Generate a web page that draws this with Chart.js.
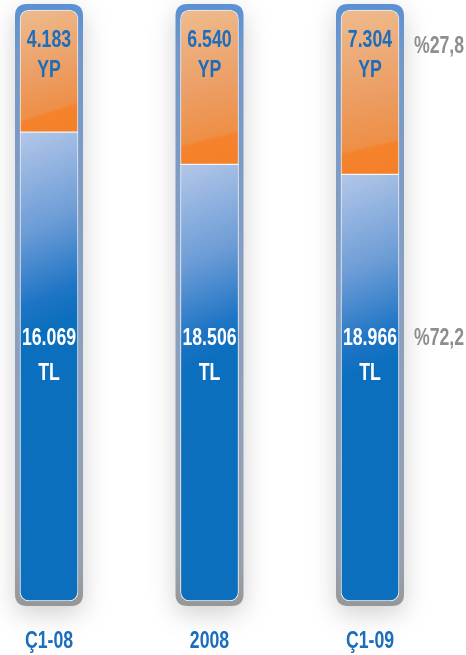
<!DOCTYPE html>
<html>
<head>
<meta charset="utf-8">
<script src="https://cdn.jsdelivr.net/npm/chart.js@4.4.1/dist/chart.umd.min.js"></script>
<style>
  html, body { margin: 0; padding: 0; background: #fff; }
  #wrap { width: 466px; height: 655px; }
</style>
</head>
<body>
<div id="wrap"><canvas id="shareChart"></canvas></div>
<script>
/* -------------------------------------------------------
   TL / YP SHARE BARS (stacked to 100%)
------------------------------------------------------- */

const categories = ["Ç1-08", "2008", "Ç1-09"];
const tlValues = [16069, 18506, 18966];
const ypValues = [4183, 6540, 7304];

const FONT = "bold 23px 'Liberation Sans', Arial, sans-serif";
const SQUEEZE = 0.77;   // no condensed face installed, so narrow it by hand
const BLUE_TXT = "#1b6dbd";

// share of each part in its bar, in percent
const totals = tlValues.map((v, i) => v + ypValues[i]);
const tlShare = tlValues.map((v, i) => v / totals[i] * 100);
const ypShare = ypValues.map((v, i) => v / totals[i] * 100);

function fmtThousands(n) {
  return String(n).replace(/\B(?=(\d{3})+(?!\d))/g, ".");
}
function fmtPct(p) {
  return "%" + p.toFixed(1).replace(".", ",");
}

function roundRect(c, x, y, w, h, r) {
  c.beginPath();
  c.moveTo(x + r, y);
  c.lineTo(x + w - r, y);
  c.quadraticCurveTo(x + w, y, x + w, y + r);
  c.lineTo(x + w, y + h - r);
  c.quadraticCurveTo(x + w, y + h, x + w - r, y + h);
  c.lineTo(x + r, y + h);
  c.quadraticCurveTo(x, y + h, x, y + h - r);
  c.lineTo(x, y + r);
  c.quadraticCurveTo(x, y, x + r, y);
  c.closePath();
}

function narrowText(c, str, x, y) {
  c.save();
  c.translate(x, y);
  c.scale(SQUEEZE, 1);
  c.fillText(str, 0, 0);
  c.restore();
}

// fills: diagonal light-to-dark gradients, placed from the scales
function tlFill(context) {
  const chart = context.chart;
  if (!chart.chartArea || context.dataIndex === undefined) return "#0b6fbd";
  const i = context.dataIndex;
  const cx = chart.scales.x.getPixelForValue(i);
  const top = chart.scales.y.getPixelForValue(tlShare[i]);
  const g = chart.ctx.createLinearGradient(cx - 29, top, cx + 45, top + 175);
  g.addColorStop(0, "#b3c7e8");
  g.addColorStop(0.5, "#6c9cd6");
  g.addColorStop(0.85, "#1f75c5");
  g.addColorStop(1, "#0b6fbd");
  return g;
}

function ypFill(context) {
  const chart = context.chart;
  if (!chart.chartArea || context.dataIndex === undefined) return "#f08a3c";
  const i = context.dataIndex;
  const cx = chart.scales.x.getPixelForValue(i);
  const top = chart.chartArea.top;
  const base = chart.scales.y.getPixelForValue(tlShare[i]);
  const g = chart.ctx.createLinearGradient(cx - 29, top, cx + 10, base);
  g.addColorStop(0, "#eebb8e");
  g.addColorStop(0.5, "#ec9f66");
  g.addColorStop(0.82, "#ee8f46");
  g.addColorStop(0.84, "#f5822c");
  g.addColorStop(1, "#f5802a");
  return g;
}

// rounded frame + soft shadow behind each bar
const framePlugin = {
  id: "barFrames",
  beforeDatasetsDraw(chart) {
    const c = chart.ctx;
    const area = chart.chartArea;
    const meta = chart.getDatasetMeta(0);
    meta.data.forEach(bar => {
      const x = bar.x - 34;
      const y = area.top - 6;
      const w = 68;
      const h = area.bottom - area.top + 11;

      c.save();
      c.shadowColor = "rgba(0,0,0,0.18)";
      c.shadowBlur = 26;
      c.shadowOffsetY = 8;
      roundRect(c, x, y, w, h, 12);
      const g = c.createLinearGradient(0, y, 0, y + h);
      g.addColorStop(0, "#5a90d4");
      g.addColorStop(0.08, "#7398c8");
      g.addColorStop(0.5, "#8a9fbf");
      g.addColorStop(0.93, "#97a0ad");
      g.addColorStop(1, "#979797");
      c.fillStyle = g;
      c.fill();
      c.restore();
    });
  }
};

// value / unit labels, share labels and category labels
const labelPlugin = {
  id: "barLabels",
  afterDatasetsDraw(chart) {
    const c = chart.ctx;
    const area = chart.chartArea;
    const xScale = chart.scales.x;
    const yScale = chart.scales.y;
    const meta = chart.getDatasetMeta(0);
    c.save();
    c.textAlign = "center";
    c.textBaseline = "alphabetic";
    c.font = FONT;
    meta.data.forEach((bar, i) => {
      c.fillStyle = BLUE_TXT;
      narrowText(c, fmtThousands(ypValues[i]), bar.x, area.top + 37);
      narrowText(c, "YP", bar.x, area.top + 67);
      c.fillStyle = "#ffffff";
      narrowText(c, fmtThousands(tlValues[i]), bar.x, yScale.getPixelForValue(43.3));
      narrowText(c, "TL", bar.x, yScale.getPixelForValue(37.4));
    });

    const last = meta.data.length - 1;
    const px = meta.data[last].x + 69;
    c.fillStyle = "#8e8e8e";
    narrowText(c, fmtPct(ypShare[last]), px, area.top + 43);
    narrowText(c, fmtPct(tlShare[last]), px, yScale.getPixelForValue(43.3));

    c.fillStyle = BLUE_TXT;
    categories.forEach((label, i) => {
      narrowText(c, label, xScale.getPixelForTick(i), area.bottom + 47);
    });
    c.restore();
  }
};

new Chart(document.getElementById("shareChart"), {
  type: "bar",
  data: {
    labels: categories,
    datasets: [
      {
        label: "TL",
        data: tlShare,
        backgroundColor: tlFill,
        borderColor: "rgba(255,255,255,0.85)",
        borderWidth: 1,
        borderSkipped: false,
        borderRadius: { topLeft: 0, topRight: 0, bottomLeft: 9, bottomRight: 9 },
        barThickness: 58,
        clip: false
      },
      {
        label: "YP",
        data: ypShare,
        backgroundColor: ypFill,
        borderColor: "rgba(255,255,255,0.85)",
        borderWidth: 1,
        borderSkipped: false,
        borderRadius: { topLeft: 9, topRight: 9, bottomLeft: 0, bottomRight: 0 },
        barThickness: 58,
        clip: false
      }
    ]
  },
  options: {
    responsive: true,
    maintainAspectRatio: false,
    animation: false,
    layout: { padding: { left: 49, right: 96, top: 10, bottom: 4 } },
    plugins: {
      legend: { display: false },
      tooltip: { enabled: false }
    },
    scales: {
      x: {
        stacked: true,
        offset: false,
        grid: { display: false, drawTicks: false },
        border: { display: false },
        ticks: { display: false },
        afterFit(scale) { scale.height = 50; }
      },
      y: {
        stacked: true,
        display: false,
        min: 0,
        max: 100
      }
    }
  },
  plugins: [framePlugin, labelPlugin]
});
</script>
</body>
</html>
